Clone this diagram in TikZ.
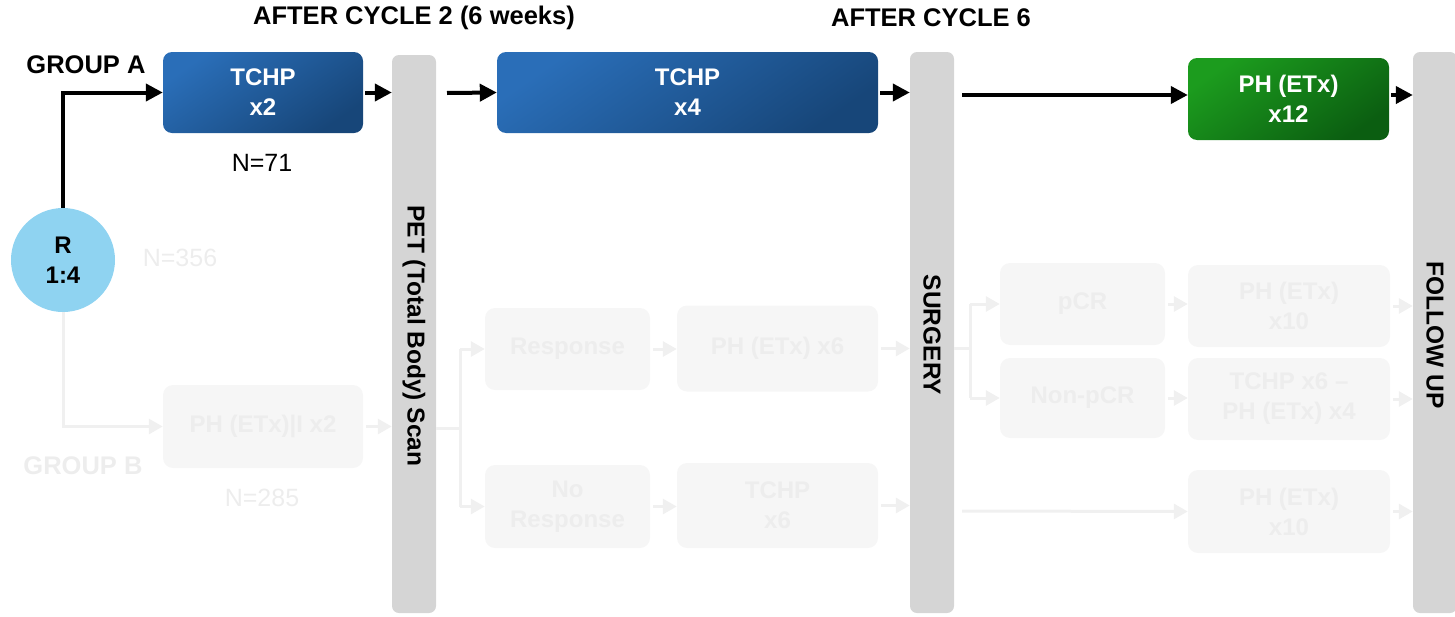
\documentclass[tikz,border=0pt]{standalone}
\usepackage{fontspec}
\setmainfont{Liberation Sans}
\usetikzlibrary{arrows.meta}

\definecolor{blueA}{HTML}{2A6EB8}
\definecolor{blueB}{HTML}{174679}
\definecolor{greenA}{HTML}{1C9C1E}
\definecolor{greenB}{HTML}{0B5E11}
\definecolor{barGray}{HTML}{D5D5D5}
\definecolor{randBlue}{HTML}{8FD3F1}
\definecolor{fadeFill}{HTML}{F6F6F6}
\definecolor{fadeText}{HTML}{EDEDED}
\definecolor{fadeLine}{HTML}{F0F0F0}

\tikzset{
  boxtext/.style={font=\bfseries\fontsize{24}{30}\selectfont, align=center},
  bluebox/.style={boxtext, rounded corners=9pt, minimum width=#1, minimum height=81pt,
    inner sep=0pt, top color=blueA, bottom color=blueB, shading angle=35, text=white},
  greenbox/.style={boxtext, rounded corners=9pt, minimum width=#1, minimum height=82pt,
    inner sep=0pt, top color=greenA, bottom color=greenB, shading angle=35, text=white},
  fadebox/.style={boxtext, rounded corners=10pt, minimum width=#1, minimum height=82pt,
    inner sep=0pt, fill=fadeFill, text=fadeText},
  bar/.style={fill=barGray, rounded corners=7pt, minimum width=44pt, minimum height=#1, inner sep=0pt},
  barlabel/.style={rotate=-90, font=\bfseries\fontsize{24.5}{30}\selectfont},
  heading/.style={font=\bfseries\fontsize{25.5}{30}\selectfont},
  count/.style={font=\fontsize{25}{30}\selectfont},
  arr/.style={line width=4pt, shorten <=2pt, -{Triangle[length=17pt,width=17pt]}},
  fadearr/.style={line width=3pt, draw=fadeLine, shorten <=3pt, -{Triangle[length=14pt,width=15pt]}},
  fadeline/.style={line width=3pt, draw=fadeLine},
}

\begin{document}
\begin{tikzpicture}[x=1pt,y=-1pt]
\useasboundingbox (0,0) rectangle (1455,616);
\clip (0,0) rectangle (1455,616);

% column headings
\node[heading] (h2) at (414,18) {AFTER CYCLE 2 (6 weeks)};
\node[heading] (h6) at (931,18) {AFTER CYCLE 6};

% vertical stage bars
\node[bar=558pt] (PET) at (414,334) {};
\node[barlabel] (PETt) at (414,336) {PET (Total Body) Scan};
\node[bar=561pt] (SURG) at (932,332.5) {};
\node[barlabel] (SURGt) at (932,335) {SURGERY};
\node[bar=561pt] (FUP) at (1435,332.5) {};
\node[barlabel] (FUPt) at (1435,335) {FOLLOW UP};

% randomisation
\node[circle, fill=randBlue, minimum size=104pt, inner sep=0pt, boxtext] (R) at (63,260) {R\\1:4};

% group B path (greyed out)
\node[fadebox=200pt, minimum height=83pt] (B1) at (263,426.5) {PH (ETx)|I x2};
\node[fadebox=165pt] (Resp) at (567.5,349) {Response};
\node[fadebox=201pt, minimum height=86pt] (PH6) at (777.5,348.5) {PH (ETx) x6};
\node[fadebox=165pt, minimum height=83pt] (NoResp) at (567.5,506.5) {No\\Response};
\node[fadebox=201pt, minimum height=85pt] (TCHP6) at (777.5,505.5) {TCHP\\x6};
\node[fadebox=165pt] (pCR) at (1082.5,304) {pCR};
\node[fadebox=165pt, minimum height=80pt] (npCR) at (1082.5,398) {Non-pCR};
\node[fadebox=202pt] (PH10a) at (1289,306) {PH (ETx)\\x10};
\node[fadebox=202pt] (TP) at (1289,399) {TCHP x6 --\\PH (ETx) x4};
\node[fadebox=202pt, minimum height=83pt] (PH10b) at (1289,511.5) {PH (ETx)\\x10};

\node[heading, text=fadeText] (gB) at (83,466) {GROUP B};
\node[count, text=fadeText] (n356) at (180,258) {N=356};
\node[count, text=fadeText] (n285) at (262,498) {N=285};

\coordinate (j1) at (460,428);
\coordinate (j2) at (970,348);
\coordinate (j3) at (962,511);

\draw[fadearr, shorten <=0pt] (R.south) |- (B1.west);
\draw[fadearr] (B1.east) -- (B1.east -| PET.west);
\draw[fadeline] (PET.east |- j1) -- (j1);
\draw[fadeline] (j1 |- Resp.west) -- (j1 |- NoResp.west);
\draw[fadearr, shorten <=0pt] (j1 |- Resp.west) -- (Resp.west);
\draw[fadearr, shorten <=0pt] (j1 |- NoResp.west) -- (NoResp.west);
\draw[fadearr] (Resp.east) -- (Resp.east -| PH6.west);
\draw[fadearr] (NoResp.east) -- (NoResp.east -| TCHP6.west);
\draw[fadearr] (PH6.east) -- (PH6.east -| SURG.west);
\draw[fadearr] (TCHP6.east) -- (TCHP6.east -| SURG.west);
\draw[fadeline] (SURG.east |- j2) -- (j2);
\draw[fadeline] (j2 |- pCR.west) -- (j2 |- npCR.west);
\draw[fadearr, shorten <=0pt] (j2 |- pCR.west) -- (pCR.west);
\draw[fadearr, shorten <=0pt] (j2 |- npCR.west) -- (npCR.west);
\draw[fadearr] (pCR.east) -- (pCR.east -| PH10a.west);
\draw[fadearr] (npCR.east) -- (npCR.east -| TP.west);
\draw[fadearr, shorten <=0pt] (j3) -- (PH10b.west);
\draw[fadearr] (PH10a.east) -- (PH10a.east -| FUP.west);
\draw[fadearr] (TP.east) -- (TP.east -| FUP.west);
\draw[fadearr] (PH10b.east) -- (PH10b.east -| FUP.west);

% group A path
\node[bluebox=200pt] (A1) at (263,92.5) {TCHP\\x2};
\node[bluebox=381pt] (A2) at (687.5,92.5) {TCHP\\x4};
\node[greenbox=201pt] (G) at (1288.5,99) {PH (ETx)\\x12};
\node[heading] (gA) at (86,65) {GROUP A};
\node[count] (n71) at (262,163) {N=71};

\coordinate (s1) at (447,93);
\coordinate (s2) at (962,95);

\draw[arr, shorten <=0pt] (R.north) |- (A1.west);
\draw[arr] (A1.east) -- (A1.east -| PET.west);
\draw[arr, shorten <=0pt] (s1) -- (A2.west);
\draw[arr] (A2.east) -- (A2.east -| SURG.west);
\draw[arr, shorten <=0pt] (s2) -- (s2 -| G.west);
\draw[arr] (G.east |- s2) -- (s2 -| FUP.west);
\end{tikzpicture}
\end{document}
